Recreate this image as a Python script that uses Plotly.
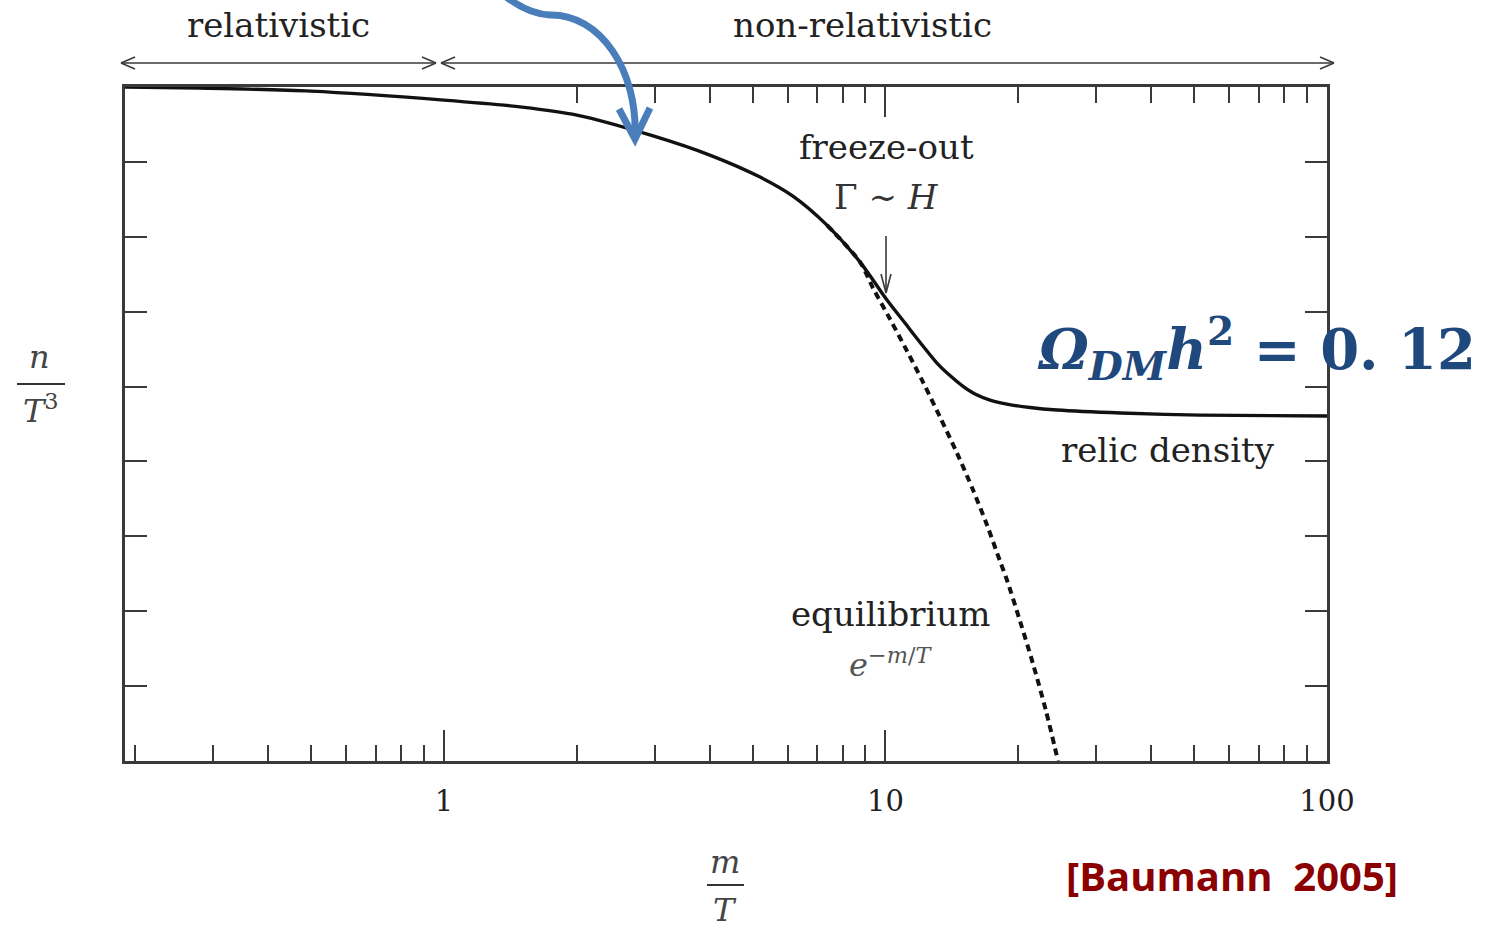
import math
import plotly.graph_objects as go

# ---- data: comoving number density n/T^3 (vertical decades) vs m/T ----
m_over_T = [0.1895, 0.28, 0.4996, 1.0, 1.502, 2.0, 2.99, 4.0, 5.2, 6.17, 7.37,
            8.76, 10.08, 11.07, 12.16, 13.08, 14.0, 14.91, 15.95, 17.25, 18.84,
            21.25, 24.46, 34.1, 51.6, 100.0]
n_over_T3 = [9.000, 8.985, 8.945, 8.825, 8.732, 8.625, 8.344, 8.091, 7.797,
             7.543, 7.156, 6.662, 6.155, 5.848, 5.541, 5.314, 5.147, 5.013,
             4.900, 4.820, 4.766, 4.720, 4.686, 4.646, 4.619, 4.606]

# equilibrium curve e^{-m/T}, drawn where it leaves the freeze-out curve
eq_m_over_T = [7.37, 8.76, 9.37, 10.24, 11.19, 12.16, 13.29, 14.52, 15.79,
               16.98, 18.17, 18.84, 20.17, 21.59, 23.10, 24.59]
eq_n_over_T3 = [7.156, 6.662, 6.315, 5.901, 5.474, 5.060, 4.593, 4.112, 3.618,
                3.151, 2.670, 2.417, 1.869, 1.295, 0.668, 0.0]

major_ticks = [1, 10, 100]
major_labels = ["1", "10", "100"]
minor_bottom = [0.2, 0.3, 0.4, 0.5, 0.6, 0.7, 0.8, 0.9,
                2, 3, 4, 5, 6, 7, 8, 9, 20, 30, 40, 50, 60, 70, 80, 90]
minor_top = [2, 3, 4, 5, 6, 7, 8, 9, 20, 30, 40, 50, 60, 70, 80, 90]
y_ticks = [1, 2, 3, 4, 5, 6, 7, 8]

X_MIN, X_MAX = 0.1895, 100.0
Y_MIN, Y_MAX = 0.0, 9.0

W, H = 1490, 930
L, R, T, B = 125, 1327, 87, 761   # plot-area edges in page pixels

SERIF = "DejaVu Serif"
INK = "#222222"
FRAME = "#3a3a3a"


def px(x):
    return (x - L) / (R - L)


def py(y):
    return (B - y) / (B - T)


fig = go.Figure()

fig.add_trace(go.Scatter(
    x=eq_m_over_T, y=eq_n_over_T3, mode="lines",
    line=dict(color="#111111", width=4, dash="7px,5px", shape="spline",
              smoothing=0.8),
    hoverinfo="skip", showlegend=False))

fig.add_trace(go.Scatter(
    x=m_over_T, y=n_over_T3, mode="lines",
    line=dict(color="#111111", width=3.4, shape="spline", smoothing=0.8),
    hoverinfo="skip", showlegend=False))

# invisible trace carrying the top axis
fig.add_trace(go.Scatter(x=[X_MIN, X_MAX], y=[Y_MIN, Y_MIN], xaxis="x2",
                         mode="markers", marker=dict(opacity=0),
                         hoverinfo="skip", showlegend=False))

xrange = [math.log10(X_MIN), math.log10(X_MAX)]

fig.update_layout(
    width=W, height=H,
    margin=dict(l=L, r=W - R, t=T, b=H - B),
    paper_bgcolor="white", plot_bgcolor="white",
    xaxis=dict(
        type="log", range=xrange, showgrid=False, zeroline=False,
        showline=True, linecolor=FRAME, linewidth=2.5, mirror=True,
        tickmode="array", tickvals=major_ticks, ticktext=major_labels,
        ticks="inside", ticklen=31, tickwidth=2, tickcolor=FRAME,
        tickfont=dict(family=SERIF, size=29, color=INK),
        ticklabelstandoff=12,
        minor=dict(tickmode="array", tickvals=minor_bottom, ticks="inside",
                   ticklen=16, tickwidth=2, tickcolor=FRAME, showgrid=False),
    ),
    xaxis2=dict(
        type="log", range=xrange, overlaying="x", side="top",
        showgrid=False, zeroline=False, showline=False, showticklabels=False,
        tickmode="array", tickvals=[10], ticks="inside", ticklen=30,
        tickwidth=2, tickcolor=FRAME,
        minor=dict(tickmode="array", tickvals=minor_top, ticks="inside",
                   ticklen=16, tickwidth=2, tickcolor=FRAME, showgrid=False),
    ),
    yaxis=dict(
        range=[Y_MIN, Y_MAX], showgrid=False, zeroline=False,
        showline=True, linecolor=FRAME, linewidth=2.5, mirror="ticks",
        tickmode="array", tickvals=y_ticks, showticklabels=False,
        ticks="inside", ticklen=22, tickwidth=2, tickcolor=FRAME,
    ),
    showlegend=False,
)

shapes = []


def seg(x0, y0, x1, y1, color=FRAME, width=1.6):
    shapes.append(dict(type="line", xref="paper", yref="paper",
                       x0=px(x0), y0=py(y0), x1=px(x1), y1=py(y1),
                       line=dict(color=color, width=width)))


def double_arrow(x0, x1, y, head=14, spread=6):
    seg(x0, y, x1, y)
    seg(x0, y, x0 + head, y - spread)
    seg(x0, y, x0 + head, y + spread)
    seg(x1, y, x1 - head, y - spread)
    seg(x1, y, x1 - head, y + spread)


double_arrow(121, 436, 63)
double_arrow(441, 1334, 63)

# freeze-out pointer
seg(886, 236, 886, 293, width=1.6)
seg(886, 293, 881, 274, width=1.6)
seg(886, 293, 891, 274, width=1.6)

# fraction bars of the axis titles
seg(17, 384, 65, 384, color="#333333", width=2.2)
seg(707, 885, 744, 885, color="#333333", width=2.2)

# curved blue pointer onto the curve
BLUE = "#4a7ebb"
path = "M {:.5f},{:.5f}".format(px(505), py(-4))
path += " Q {:.5f},{:.5f} {:.5f},{:.5f}".format(px(528), py(14), px(550), py(15))
path += " C {:.5f},{:.5f} {:.5f},{:.5f} {:.5f},{:.5f}".format(
    px(600), py(14), px(638), py(70), px(635), py(138))
shapes.append(dict(type="path", xref="paper", yref="paper", path=path,
                   line=dict(color=BLUE, width=7)))
head = "M {:.5f},{:.5f} L {:.5f},{:.5f} L {:.5f},{:.5f}".format(
    px(619), py(109), px(635), py(139), px(650), py(108))
shapes.append(dict(type="path", xref="paper", yref="paper", path=head,
                   line=dict(color=BLUE, width=7)))

fig.update_layout(shapes=shapes)

annotations = []


def label(text, x, y, size=34, color=INK, family=SERIF, **kw):
    annotations.append(dict(text=text, x=px(x), y=py(y), xref="paper",
                            yref="paper", xanchor="center", yanchor="middle",
                            showarrow=False,
                            font=dict(family=family, size=size, color=color),
                            **kw))


label("relativistic", 278, 25)
label("non-relativistic", 862, 25)
label("freeze-out", 886, 147)
label("Γ ∼ <i>H</i>", 886, 197, color="#333333")
label("relic density", 1168, 450)
label("equilibrium", 890, 614)
label("<i>e</i><sup><i>−m</i>/<i>T</i></sup>", 890, 663, size=32, color="#555555")
label("<i>n</i>", 40, 357, size=32, color="#444444")
label("<i>T</i><sup>3</sup>", 41, 409, size=32, color="#444444")
label("<i>m</i>", 725, 862, size=32, color="#444444")
label("<i>T</i>", 725, 910, size=32, color="#444444")
label("<b><i>Ω</i><sub><i>DM</i></sub><i>h</i><sup>2</sup> = 0. 12</b>",
      1256, 348, size=56, color="#1f497d", family=SERIF)
label("<b>[Baumann  2005]</b>", 1232, 875, size=40, color="#8b0000",
      family="Open Sans")

fig.update_layout(annotations=annotations)

fig.write_html("out.html")
